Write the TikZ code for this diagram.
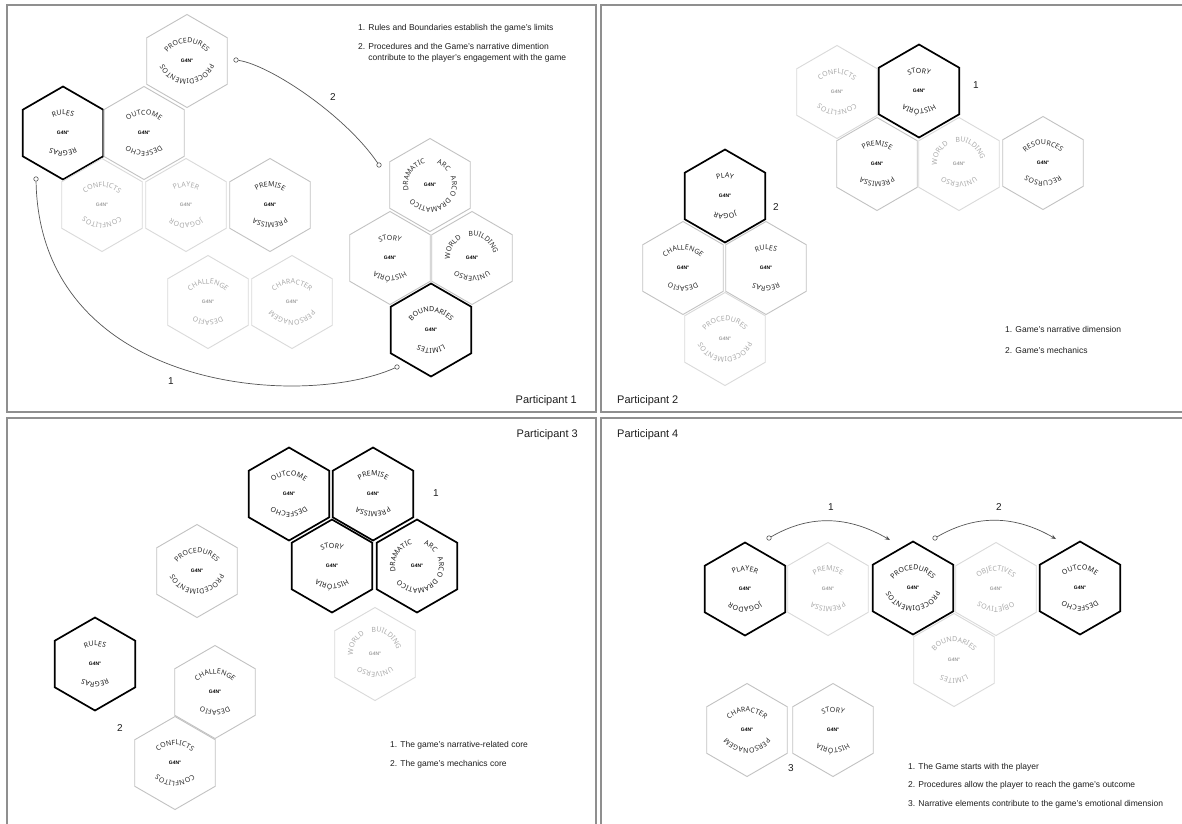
\documentclass[tikz,border=0pt]{standalone}
\usepackage{fontspec}
\setmainfont{Liberation Sans}
\newfontfamily\lblfamily{Noto Sans}
\usetikzlibrary{decorations.text,arrows.meta}

\definecolor{framegray}{HTML}{8F8F8F}
\definecolor{hexmidline}{HTML}{C2C2C2}
\definecolor{hexfaintline}{HTML}{DADADA}
\definecolor{linkgray}{HTML}{555555}
\definecolor{notecol}{HTML}{1F1F1F}
\definecolor{lblcolbold}{HTML}{1E1E1E}
\definecolor{lblcolmed}{HTML}{2E2E2E}
\definecolor{lblcolfaint}{HTML}{ABABAB}
\definecolor{gcolfaint}{HTML}{A0A0A0}

\newcommand\lblfont{\lblfamily\fontsize{7}{8}\selectfont}
\newcommand\gfont{\fontsize{5}{5}\selectfont\bfseries}
\newcommand\notefont{\fontsize{8.5}{11}\selectfont}
\newcommand\tagfont{\fontsize{11}{13}\selectfont}
\newcommand\numfont{\fontsize{10}{12}\selectfont}

% one word bent along an arc of radius #6 whose centre sits #5 above the tile centre;
% the word is centred on angle #2 and reads clockwise
\newcommand\arcword[6]{%
  \begingroup\lblfont
  \path[decorate,decoration={text along path,text={#3},text color=lblcol#4,text align=center}]
    ([shift={(0,#5)},shift={(#2+180:#6)}]#1) arc[start angle=#2+180,end angle=#2-180,radius=#6];
  \endgroup}
\newcommand\topword[4]{\arcword{#1}{#2}{#3}{#4}{-7}{25pt}}
\newcommand\botword[4]{\arcword{#1}{#2}{#3}{#4}{7}{25pt}}
\newcommand\ringword[4]{\arcword{#1}{#2}{#3}{#4}{0}{22pt}}

% a pointy-top hexagon tile with its G4N mark
\newcommand\hexcell[4]{%
  \coordinate (#1) at (#2,-#3);
  \draw[hex#4] (#1) +(90:46.5pt) -- +(150:46.5pt) -- +(210:46.5pt) -- +(270:46.5pt)
     -- +(330:46.5pt) -- +(30:46.5pt) -- cycle;
  \node[gmark#4] (#1-g) at (#1) {G4N°};}

% tile with English word on top and Portuguese word underneath
\newcommand\hexpair[6]{\hexcell{#1}{#2}{#3}{#4}\topword{#1}{90}{#5}{#4}\botword{#1}{-90}{#6}{#4}}
% the two tiles whose words run round the sides
\newcommand\arctile[4]{\hexcell{#1}{#2}{#3}{#4}%
  \ringword{#1}{148}{DRAMATIC}{#4}\ringword{#1}{55}{ARC}{#4}%
  \ringword{#1}{-3}{ARCO}{#4}\ringword{#1}{-89}{DRAMATICO}{#4}}
\newcommand\worldtile[4]{\hexcell{#1}{#2}{#3}{#4}%
  \ringword{#1}{151}{WORLD}{#4}\ringword{#1}{55}{BUILDING}{#4}%
  \botword{#1}{-90}{UNIVERSO}{#4}}

\begin{document}
\begin{tikzpicture}[x=1pt,y=1pt,
  frame/.style={draw=framegray,line width=1.4pt},
  hexbold/.style={draw=black,line width=1.7pt,line join=miter},
  hexmed/.style={draw=hexmidline,line width=0.9pt,line join=miter},
  hexfaint/.style={draw=hexfaintline,line width=0.9pt,line join=miter},
  gmarkbold/.style={font=\gfont,text=black,inner sep=0pt},
  gmarkmed/.style={font=\gfont,text=black,inner sep=0pt},
  gmarkfaint/.style={font=\gfont,text=gcolfaint,inner sep=0pt},
  endpt/.style={circle,draw=linkgray,fill=white,line width=0.6pt,minimum size=4.5pt,inner sep=0pt},
  link/.style={draw=linkgray,line width=0.7pt},
  note/.style={font=\notefont,text=notecol,anchor=base west,inner sep=0pt},
  tag/.style={font=\tagfont,text=notecol,inner sep=0pt},
  num/.style={font=\numfont,text=notecol,inner sep=0pt},
]
\useasboundingbox (0,0) rectangle (1182,-823);
\clip (0,0) rectangle (1182,-823);
\fill[white] (0,0) rectangle (1182,-823);

% panel frames
\draw[frame] (7,-5) rectangle (596,-412);
\draw[frame] (601,-5) rectangle (1192,-412);
\draw[frame] (7,-418) rectangle (596,-832);
\draw[frame] (601,-418) rectangle (1192,-832);

% ---------------- Participant 1
\hexpair{p1proc}{187}{61}{med}{PROCEDURES}{PROCEDIMENTOS}
\hexpair{p1rules}{63}{133}{bold}{RULES}{REGRAS}
\hexpair{p1outc}{144}{133}{med}{OUTCOME}{DESFECHO}
\hexpair{p1conf}{102}{205}{faint}{CONFLICTS}{CONFLITOS}
\hexpair{p1play}{186}{205}{faint}{PLAYER}{JOGADOR}
\hexpair{p1prem}{270}{205}{med}{PREMISE}{PREMISSA}
\hexpair{p1chal}{208}{302}{faint}{CHALLENGE}{DESAFIO}
\hexpair{p1char}{292}{302}{faint}{CHARACTER}{PERSONAGEM}
\arctile{p1arc}{430}{185}{med}
\hexpair{p1story}{390}{258}{med}{STORY}{HISTÓRIA}
\worldtile{p1world}{472}{258}{med}
\hexpair{p1bound}{431}{330}{bold}{BOUNDARIES}{LIMITES}

\node[endpt] (p1c1s) at (36,-179) {};
\node[endpt] (p1c1e) at (397,-367) {};
\draw[link] (p1c1s) .. controls (40,-390) and (300,-410) .. (p1c1e);
\node[endpt] (p1c2s) at (236,-60) {};
\node[endpt] (p1c2e) at (379,-165) {};
\draw[link] (p1c2s) .. controls (270,-65) and (345,-115) .. (p1c2e);
\node[num] (p1k1) at (171,-381) {1};
\node[num] (p1k2) at (333,-97) {2};

\node[note] (p1n1) at (358,-30) {1. Rules and Boundaries establish the game’s limits};
\node[note] (p1n2) at (358,-49) {2. Procedures and the Game’s narrative dimention};
\node[note] (p1n3) at (358,-60) {\phantom{2. }contribute to the player’s engagement with the game};
\node[tag,anchor=base east] (p1tag) at (577,-403) {Participant 1};

% ---------------- Participant 2
\hexpair{p2conf}{837}{92}{faint}{CONFLICTS}{CONFLITOS}
\hexpair{p2story}{919}{91}{bold}{STORY}{HISTÓRIA}
\hexpair{p2prem}{877}{164}{med}{PREMISE}{PREMISSA}
\worldtile{p2world}{959}{164}{faint}
\hexpair{p2res}{1043}{163}{med}{RESOURCES}{RECURSOS}
\hexpair{p2play}{725}{196}{bold}{PLAY}{JOGAR}
\hexpair{p2chal}{683}{268}{med}{CHALLENGE}{DESAFIO}
\hexpair{p2rules}{766}{268}{med}{RULES}{REGRAS}
\hexpair{p2proc}{725}{339}{faint}{PROCEDURES}{PROCEDIMENTOS}
\node[num] (p2k1) at (976,-85) {1};
\node[num] (p2k2) at (776,-207) {2};
\node[note] (p2n1) at (1005,-332) {1. Game’s narrative dimension};
\node[note] (p2n2) at (1005,-353) {2. Game’s mechanics};
\node[tag,anchor=base west] (p2tag) at (617,-403) {Participant 2};

% ---------------- Participant 3
\hexpair{p3outc}{289}{494}{bold}{OUTCOME}{DESFECHO}
\hexpair{p3prem}{373}{494}{bold}{PREMISE}{PREMISSA}
\hexpair{p3story}{332}{566}{bold}{STORY}{HISTÓRIA}
\arctile{p3arc}{417}{566}{bold}
\worldtile{p3world}{375}{654}{faint}
\hexpair{p3proc}{197}{571}{med}{PROCEDURES}{PROCEDIMENTOS}
\hexpair{p3rules}{95}{664}{bold}{RULES}{REGRAS}
\hexpair{p3chal}{215}{692}{med}{CHALLENGE}{DESAFIO}
\hexpair{p3conf}{175}{763}{med}{CONFLICTS}{CONFLITOS}
\node[num] (p3k1) at (436,-493) {1};
\node[num] (p3k2) at (120,-728) {2};
\node[note] (p3n1) at (390,-747) {1. The game’s narrative-related core};
\node[note] (p3n2) at (390,-766) {2. The game’s mechanics core};
\node[tag,anchor=base east] (p3tag) at (578,-437) {Participant 3};

% ---------------- Participant 4
\hexpair{p4play}{745}{589}{bold}{PLAYER}{JOGADOR}
\hexpair{p4prem}{828}{589}{faint}{PREMISE}{PREMISSA}
\hexpair{p4proc}{913}{588}{bold}{PROCEDURES}{PROCEDIMENTOS}
\hexpair{p4obj}{996}{589}{faint}{OBJECTIVES}{OBJETIVOS}
\hexpair{p4outc}{1080}{588}{bold}{OUTCOME}{DESFECHO}
\hexpair{p4bound}{954}{660}{faint}{BOUNDARIES}{LIMITES}
\hexpair{p4char}{747}{730}{med}{CHARACTER}{PERSONAGEM}
\hexpair{p4story}{833}{730}{med}{STORY}{HISTÓRIA}

\node[endpt] (p4a1s) at (769,-538) {};
\coordinate (p4a1e) at (890,-540);
\draw[link,-{Stealth[length=5pt,width=4pt]}] (p4a1s) to[out=30,in=150] (p4a1e);
\node[endpt] (p4a2s) at (935,-538) {};
\coordinate (p4a2e) at (1056,-539);
\draw[link,-{Stealth[length=5pt,width=4pt]}] (p4a2s) to[out=30,in=150] (p4a2e);
\node[num] (p4k1) at (831,-507) {1};
\node[num] (p4k2) at (999,-507) {2};
\node[num] (p4k3) at (791,-768) {3};
\node[note] (p4n1) at (908,-769) {1. The Game starts with the player};
\node[note] (p4n2) at (908,-787) {2. Procedures allow the player to reach the game’s outcome};
\node[note] (p4n3) at (908,-806) {3. Narrative elements contribute to the game’s emotional dimension};
\node[tag,anchor=base west] (p4tag) at (617,-437) {Participant 4};
\end{tikzpicture}
\end{document}
